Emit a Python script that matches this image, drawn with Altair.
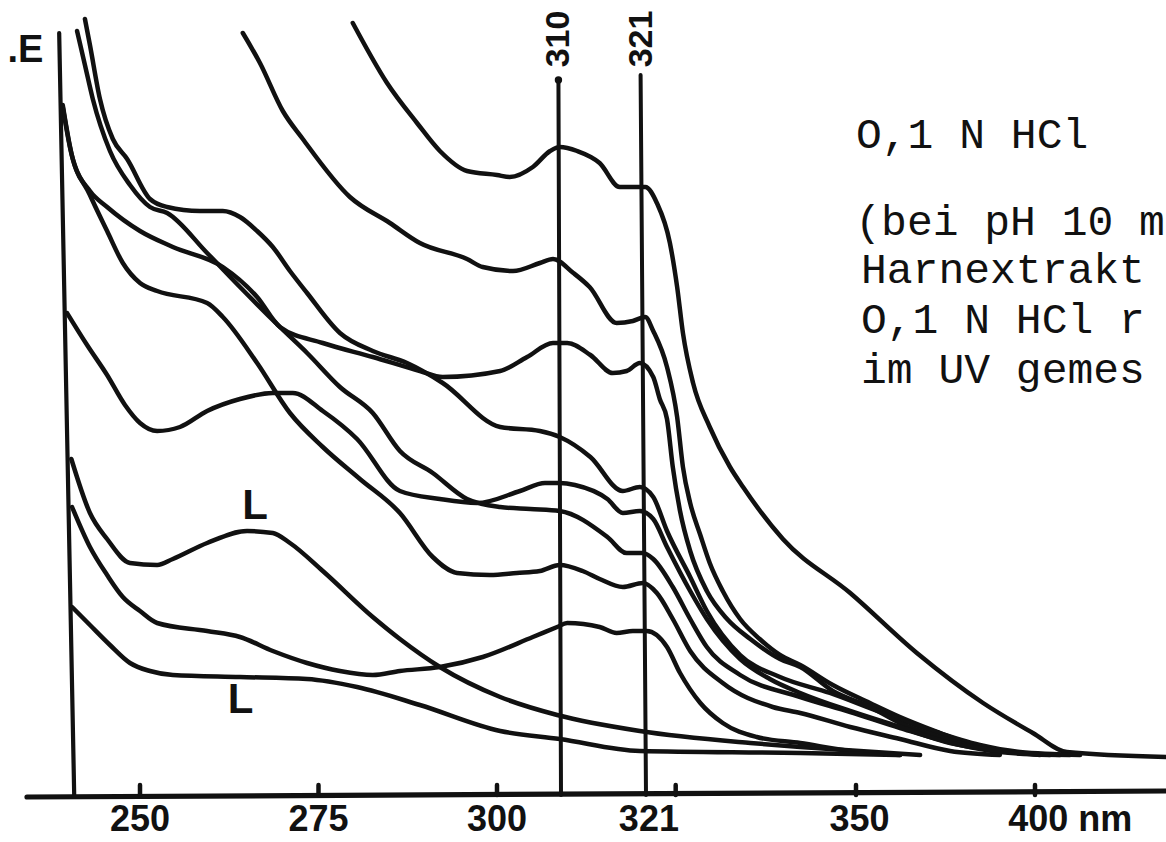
import altair as alt
import pandas as pd

# ---------------- spectra: wavelength (nm) and extinction E ----------------
s1_nm = [279.8, 284.6, 288.8, 292.0, 295.8, 300.0, 302.0, 305.6, 308.3, 309.8, 312.1, 315.0, 317.6, 319.3, 320.9, 322.5, 324.3, 325.3, 326.1, 327.5, 329.8, 332.6, 334.4, 339.9, 349.2, 367.0, 385.5, 399.4, 408.9, 436.6]
s1_e = [1.83, 1.68, 1.58, 1.51, 1.46, 1.45, 1.445, 1.47, 1.51, 1.52, 1.51, 1.48, 1.42, 1.42, 1.42, 1.38, 1.28, 1.17, 1.055, 0.93, 0.82, 0.72, 0.67, 0.54, 0.405, 0.255, 0.13, 0.055, 0.0075, -0.005]

s2_nm = [264.4, 266.8, 270.0, 272.8, 279.4, 285.0, 289.2, 295.8, 298.0, 302.5, 306.7, 308.75, 311.6, 313.7, 317.2, 319.3, 320.9, 322.0, 323.9, 325.3, 326.1, 327.1, 328.5, 329.8, 331.6, 334.0, 336.7, 339.5, 342.3, 346.8, 353.9, 362.3, 373.5, 381.0, 393.0, 407.0]
s2_e = [1.805, 1.73, 1.61, 1.54, 1.395, 1.33, 1.28, 1.24, 1.22, 1.21, 1.23, 1.24, 1.205, 1.17, 1.08, 1.085, 1.095, 1.06, 0.97, 0.845, 0.72, 0.63, 0.55, 0.48, 0.41, 0.34, 0.29, 0.25, 0.225, 0.175, 0.13, 0.095, 0.055, 0.03, 0.0075, 0.0]

s3_nm = [242.3, 243.0, 244.4, 246.2, 248.2, 251.4, 253.8, 258.4, 261.6, 264.0, 266.4, 268.6, 271.0, 273.4, 278.0, 282.6, 287.4, 292.4, 300.5, 306.7, 309.8, 313.8, 318.0, 320.2, 322.0, 323.9, 327.1, 329.4, 334.0, 339.5, 346.4, 356.7, 370.7, 384.6, 395.8, 412.6]
s3_e = [1.84, 1.775, 1.64, 1.54, 1.49, 1.39, 1.37, 1.36, 1.36, 1.345, 1.31, 1.27, 1.21, 1.155, 1.055, 1.01, 0.98, 0.93, 0.82, 0.81, 0.795, 0.745, 0.66, 0.67, 0.645, 0.56, 0.445, 0.36, 0.25, 0.195, 0.155, 0.1075, 0.0625, 0.025, 0.0075, 0.0]

s4_nm = [241.2, 242.3, 243.4, 245.8, 248.6, 251.4, 253.8, 259.4, 264.0, 269.6, 273.4, 278.0, 282.6, 286.4, 291.0, 295.8, 300.5, 305.2, 309.8, 316.0, 318.5, 320.6, 322.0, 324.7, 327.1, 329.4, 334.0, 342.3, 349.2, 362.3, 379.1, 390.2, 404.2]
s4_e = [1.81, 1.725, 1.64, 1.51, 1.425, 1.37, 1.355, 1.255, 1.17, 1.07, 1.005, 0.92, 0.855, 0.76, 0.705, 0.64, 0.62, 0.615, 0.61, 0.545, 0.505, 0.505, 0.49, 0.42, 0.34, 0.27, 0.2, 0.145, 0.1075, 0.0675, 0.025, 0.0075, 0.0]

s5_nm = [239.2, 240.6, 243.0, 245.4, 250.0, 254.6, 261.6, 266.4, 269.6, 275.6, 282.6, 289.2, 292.4, 300.5, 304.7, 308.75, 310.8, 313.8, 316.7, 318.5, 320.2, 322.0, 322.9, 323.9, 324.7, 325.7, 327.1, 329.4, 332.2, 335.4, 339.5, 342.3, 346.8, 353.9, 362.3, 373.5, 384.6, 395.8, 409.8]
s5_e = [1.625, 1.49, 1.41, 1.37, 1.31, 1.27, 1.22, 1.145, 1.07, 1.03, 0.995, 0.96, 0.945, 0.96, 0.995, 1.03, 1.03, 1.0, 0.955, 0.96, 0.98, 0.945, 0.89, 0.84, 0.72, 0.61, 0.51, 0.41, 0.34, 0.29, 0.24, 0.22, 0.16, 0.12, 0.08, 0.045, 0.0175, 0.005, 0.0]

s6_nm = [239.2, 240.2, 243.0, 245.4, 247.6, 250.0, 252.4, 259.4, 261.6, 266.4, 271.0, 275.6, 280.8, 286.4, 291.0, 294.4, 299.0, 303.1, 306.7, 309.8, 312.8, 315.0, 318.0, 320.6, 322.5, 324.7, 327.1, 331.6, 338.5, 342.3, 349.2, 362.3, 376.3, 390.2]
s6_e = [1.62, 1.52, 1.40, 1.31, 1.23, 1.18, 1.16, 1.13, 1.095, 0.98, 0.855, 0.77, 0.69, 0.605, 0.495, 0.455, 0.45, 0.455, 0.46, 0.475, 0.46, 0.44, 0.42, 0.43, 0.405, 0.34, 0.26, 0.18, 0.12, 0.105, 0.07, 0.04, 0.01, 0.0]

s7_nm = [239.8, 242.6, 245.4, 247.9, 250.0, 252.4, 255.6, 259.4, 264.0, 268.6, 271.4, 275.6, 280.4, 286.4, 292.0, 297.2, 303.6, 307.5, 309.8, 311.8, 316.0, 318.0, 320.2, 322.0, 323.9, 327.1, 329.4, 334.0, 338.1, 342.3, 349.2, 362.3, 376.3, 390.2, 401.4]
s7_e = [1.105, 1.025, 0.95, 0.875, 0.83, 0.81, 0.82, 0.86, 0.89, 0.905, 0.905, 0.86, 0.79, 0.66, 0.64, 0.63, 0.66, 0.68, 0.68, 0.675, 0.64, 0.605, 0.61, 0.59, 0.52, 0.41, 0.34, 0.24, 0.19, 0.155, 0.11, 0.07, 0.03, 0.01, 0.0]

s8_nm = [240.4, 243.0, 245.4, 248.6, 252.4, 254.6, 259.4, 265.0, 268.6, 271.0, 275.6, 282.6, 286.4, 292.0, 300.5, 309.4, 320.2, 335.4, 342.3, 351.1, 367.9]
s8_e = [0.74, 0.605, 0.54, 0.48, 0.475, 0.49, 0.53, 0.56, 0.555, 0.53, 0.46, 0.345, 0.29, 0.22, 0.145, 0.10, 0.06, 0.03, 0.02, 0.01, 0.0]

s9_nm = [240.5, 243.0, 245.4, 247.6, 250.0, 252.4, 259.4, 264.0, 268.6, 273.4, 278.0, 282.6, 286.4, 292.0, 298.0, 305.6, 309.4, 310.8, 315.0, 317.2, 319.3, 321.1, 323.9, 325.7, 328.5, 331.6, 336.3, 342.3, 349.2, 362.3]
s9_e = [0.62, 0.52, 0.45, 0.395, 0.36, 0.33, 0.31, 0.295, 0.26, 0.23, 0.21, 0.20, 0.21, 0.22, 0.245, 0.295, 0.32, 0.33, 0.32, 0.305, 0.31, 0.31, 0.27, 0.205, 0.13, 0.08, 0.045, 0.03, 0.01, 0.0]

s10_nm = [240.5, 243.0, 245.8, 248.6, 251.4, 254.6, 264.0, 273.4, 280.4, 289.2, 300.5, 309.8, 320.2, 342.3, 362.3]
s10_e = [0.37, 0.325, 0.275, 0.23, 0.21, 0.20, 0.195, 0.19, 0.17, 0.125, 0.06, 0.04, 0.01, 0.005, 0.0]

# ---------------- axis / marker values ----------------
tick_nm = [250, 275, 300, 325.1, 350, 400]
tick_text = ["250", "275", "300", "321", "350"]
tick_text_nm = [250, 275, 300, 321.4, 351.0]
unit_text = ["400 nm"]
unit_text_nm = [392.5]
marker_lines_nm = [310, 321]
marker_lines_top_nm = [309.6, 320.3]
marker_lines_top_e = [1.6875, 1.70]
marker_labels = ["310", "321"]
marker_label_nm = [309.7, 320.5]
note_lines = ["O,1 N HCl", "(bei pH 10 m", "Harnextrakt", "O,1 N HCl r", "im UV gemes"]
note_nm = [350.0, 349.9, 351.4, 351.4, 351.4]
note_e = [1.5175, 1.30, 1.18, 1.055, 0.93]
l_marks = ["L", "L"]
l_nm = [266.1, 264.1]
l_e = [0.6225, 0.1375]

curves = {
    "1": (s1_nm, s1_e), "2": (s2_nm, s2_e), "3": (s3_nm, s3_e), "4": (s4_nm, s4_e),
    "5": (s5_nm, s5_e), "6": (s6_nm, s6_e), "7": (s7_nm, s7_e), "8": (s8_nm, s8_e),
    "9": (s9_nm, s9_e), "10": (s10_nm, s10_e),
}
rows = []
for name, (xs_, ys_) in curves.items():
    for i, (xv, yv) in enumerate(zip(xs_, ys_)):
        rows.append({"curve": name, "i": i, "nm": xv, "E": yv})
spectra = pd.DataFrame(rows)

BOLD = "'Liberation Sans', Arial, sans-serif"
MONO = "'Liberation Mono', 'DejaVu Sans Mono', monospace"
INK = "#111111"

xs = alt.Scale(domain=[234.2, 250, 300, 310, 321, 350, 400, 436.6],
               range=[27, 140, 497, 561, 646, 856, 1035, 1166], nice=False, zero=False)
ys = alt.Scale(domain=[-0.2175, 1.8875], range=[842, 0], nice=False, zero=False)

X = lambda f: alt.X(f, type="quantitative", scale=xs, axis=None)
Y = lambda f: alt.Y(f, type="quantitative", scale=ys, axis=None)

lines = alt.Chart(spectra).mark_line(
    color=INK, strokeWidth=4.5, interpolate="monotone", strokeCap="round", strokeJoin="round"
).encode(x=X("nm"), y=Y("E"), detail="curve:N", order="i:Q")

# E axis (left vertical line) and wavelength axis
frame = pd.DataFrame({
    "x": [238.7, 234.2], "x2": [240.8, 436.6],
    "y": [1.805, -0.105], "y2": [-0.10, -0.09], "w": [4.2, 5.2],
})
frame_rules = alt.Chart(frame).mark_rule(color=INK, strokeCap="round").encode(
    x=X("x"), x2="x2", y=Y("y"), y2="y2", strokeWidth=alt.StrokeWidth("w:Q", scale=None)
)

ticks = pd.DataFrame({"nm": tick_nm, "y": [-0.1] * len(tick_nm), "y2": [-0.075] * len(tick_nm)})
tick_rules = alt.Chart(ticks).mark_rule(color=INK, strokeWidth=4.5, strokeCap="round").encode(
    x=X("nm"), y=Y("y"), y2="y2"
)

mk = pd.DataFrame({"x": marker_lines_top_nm, "x2": marker_lines_nm,
                   "y": marker_lines_top_e, "y2": [-0.1, -0.1]})
marker_rules = alt.Chart(mk).mark_rule(color=INK, strokeWidth=4.0, strokeCap="round").encode(
    x=X("x"), x2="x2", y=Y("y"), y2="y2"
)
marker_tops = alt.Chart(mk.iloc[:1]).mark_circle(color=INK, size=55, opacity=1).encode(
    x=X("x"), y=Y("y")
)

tl = pd.DataFrame({"t": tick_text, "nm": tick_text_nm, "E": [-0.1625] * len(tick_text)})
tick_labels = alt.Chart(tl).mark_text(font=BOLD, fontWeight="bold", fontSize=36, color=INK,
                                      align="center", baseline="middle").encode(
    x=X("nm"), y=Y("E"), text="t:N")

ul = pd.DataFrame({"t": unit_text, "nm": unit_text_nm, "E": [-0.1625]})
unit_label = alt.Chart(ul).mark_text(font=BOLD, fontWeight="bold", fontSize=36, color=INK,
                                     align="left", baseline="middle").encode(
    x=X("nm"), y=Y("E"), text="t:N")

ml = pd.DataFrame({"t": marker_labels, "nm": marker_label_nm, "E": [1.79, 1.79]})
marker_text = alt.Chart(ml).mark_text(font=BOLD, fontWeight="bold", fontSize=34, color=INK,
                                      align="center", baseline="middle", angle=270).encode(
    x=X("nm"), y=Y("E"), text="t:N")

el = pd.DataFrame({"t": [".E"], "nm": [236.5], "E": [1.7325]})
e_label = alt.Chart(el).mark_text(font=BOLD, fontWeight="bold", fontSize=38, color=INK,
                                  align="right", baseline="alphabetic").encode(
    x=X("nm"), y=Y("E"), text="t:N")

ll = pd.DataFrame({"t": l_marks, "nm": l_nm, "E": l_e})
l_label = alt.Chart(ll).mark_text(font=BOLD, fontWeight="bold", fontSize=42, color=INK,
                                  align="center", baseline="middle").encode(
    x=X("nm"), y=Y("E"), text="t:N")

nl = pd.DataFrame({"t": note_lines, "nm": note_nm, "E": note_e})
notes = alt.Chart(nl).mark_text(font=MONO, fontSize=43, color=INK,
                                align="left", baseline="alphabetic").encode(
    x=X("nm"), y=Y("E"), text="t:N")

chart = alt.layer(
    lines, frame_rules, tick_rules, marker_rules, marker_tops, tick_labels, unit_label,
    marker_text, e_label, l_label, notes
).properties(
    width=1166, height=842, padding=0, autosize=alt.AutoSizeParams(type="none"),
    background="white"
).configure_view(stroke=None)

chart.save("out.html", embed_options={"renderer": "svg", "actions": False})
